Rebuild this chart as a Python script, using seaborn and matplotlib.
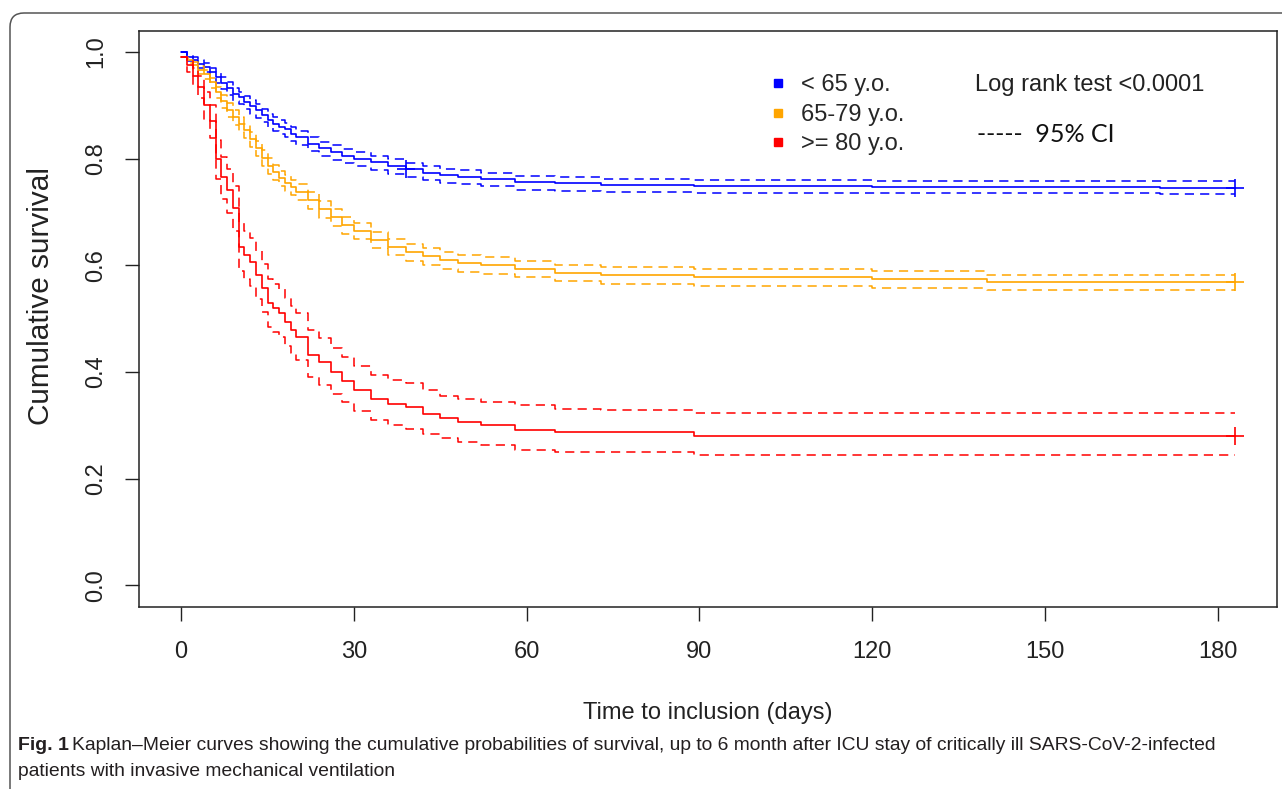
import matplotlib
matplotlib.use("Agg")
import matplotlib.pyplot as plt
import matplotlib.patches as mpatches
from matplotlib.lines import Line2D
import seaborn as sns

# ====================================
# DADOS
# ====================================

days = [0, 1, 2, 3, 4, 5, 6, 7, 8, 9, 10, 11, 12, 13, 14, 15, 16, 17, 18, 19, 20,
        22, 24, 26, 28, 30, 33, 36, 39, 42, 45, 48, 52, 58, 65, 73,
        89, 120, 140, 170, 183]

# < 65 y.o.
surv_b = [1.0, 0.99, 0.985, 0.978, 0.972, 0.962, 0.953, 0.942, 0.932, 0.922, 0.915,
          0.907, 0.898, 0.891, 0.882, 0.872, 0.866, 0.86, 0.855, 0.847, 0.84,
          0.828, 0.82, 0.812, 0.806, 0.80, 0.793, 0.786, 0.78, 0.774, 0.769, 0.766,
          0.762, 0.756, 0.754, 0.75, 0.749, 0.747, 0.747, 0.746, 0.746]
hi_b = [1.0, 0.995, 0.991, 0.985, 0.980, 0.971, 0.963, 0.953, 0.943, 0.933, 0.926,
        0.918, 0.910, 0.903, 0.894, 0.884, 0.878, 0.872, 0.867, 0.859, 0.852,
        0.840, 0.832, 0.825, 0.819, 0.813, 0.806, 0.799, 0.792, 0.786, 0.781, 0.778,
        0.774, 0.768, 0.766, 0.762, 0.761, 0.759, 0.759, 0.758, 0.758]
lo_b = [1.0, 0.984, 0.978, 0.970, 0.963, 0.952, 0.942, 0.930, 0.920, 0.909, 0.902,
        0.894, 0.884, 0.877, 0.868, 0.858, 0.852, 0.846, 0.841, 0.833, 0.826,
        0.814, 0.806, 0.798, 0.792, 0.786, 0.779, 0.772, 0.766, 0.760, 0.755, 0.752,
        0.748, 0.742, 0.740, 0.737, 0.736, 0.735, 0.735, 0.733, 0.733]

# 65-79 y.o.
surv_o = [0.99, 0.985, 0.975, 0.967, 0.958, 0.943, 0.925, 0.908, 0.892, 0.878, 0.865,
          0.853, 0.837, 0.82, 0.802, 0.787, 0.775, 0.763, 0.755, 0.747, 0.738,
          0.722, 0.705, 0.69, 0.675, 0.665, 0.648, 0.635, 0.625, 0.617, 0.61, 0.604,
          0.60, 0.594, 0.586, 0.582, 0.578, 0.574, 0.568, 0.568, 0.568]
hi_o = [0.99, 0.989, 0.981, 0.974, 0.966, 0.952, 0.935, 0.919, 0.904, 0.891, 0.878,
        0.866, 0.851, 0.834, 0.816, 0.801, 0.789, 0.777, 0.769, 0.761, 0.753,
        0.737, 0.720, 0.705, 0.690, 0.680, 0.663, 0.650, 0.640, 0.632, 0.625, 0.619,
        0.615, 0.609, 0.601, 0.597, 0.593, 0.589, 0.582, 0.582, 0.582]
lo_o = [0.99, 0.980, 0.968, 0.959, 0.949, 0.933, 0.914, 0.896, 0.879, 0.864, 0.851,
        0.839, 0.822, 0.805, 0.787, 0.772, 0.760, 0.748, 0.740, 0.732, 0.722,
        0.706, 0.689, 0.674, 0.659, 0.649, 0.632, 0.619, 0.609, 0.601, 0.594, 0.588,
        0.584, 0.578, 0.570, 0.566, 0.562, 0.558, 0.553, 0.553, 0.553]

# >= 80 y.o.
surv_r = [0.99, 0.975, 0.955, 0.935, 0.90, 0.87, 0.80, 0.765, 0.741, 0.707, 0.634,
          0.62, 0.606, 0.582, 0.557, 0.529, 0.52, 0.51, 0.493, 0.478, 0.465,
          0.432, 0.418, 0.40, 0.383, 0.367, 0.350, 0.341, 0.334, 0.322, 0.313, 0.306,
          0.30, 0.291, 0.288, 0.287, 0.281, 0.281, 0.281, 0.281, 0.281]
hi_r = [0.99, 0.985, 0.970, 0.955, 0.925, 0.90, 0.835, 0.803, 0.781, 0.749, 0.679,
        0.665, 0.651, 0.627, 0.602, 0.574, 0.565, 0.555, 0.538, 0.523, 0.511,
        0.478, 0.464, 0.446, 0.429, 0.412, 0.395, 0.386, 0.379, 0.366, 0.356, 0.349,
        0.343, 0.338, 0.331, 0.329, 0.323, 0.323, 0.323, 0.323, 0.323]
lo_r = [0.99, 0.963, 0.937, 0.913, 0.873, 0.838, 0.762, 0.725, 0.699, 0.664, 0.589,
        0.575, 0.561, 0.537, 0.512, 0.485, 0.476, 0.466, 0.449, 0.435, 0.423,
        0.39, 0.376, 0.359, 0.343, 0.327, 0.310, 0.301, 0.294, 0.283, 0.276, 0.269,
        0.263, 0.254, 0.251, 0.250, 0.244, 0.244, 0.244, 0.244, 0.244]

# censuras (+)
cens_t_b = [39, 183]
cens_s_b = [0.78, 0.746]
cens_t_o = [183]
cens_s_o = [0.568]
cens_t_r = [183]
cens_s_r = [0.281]

labels = ["< 65 y.o.", "65-79 y.o.", ">= 80 y.o."]
colors = ["#0000FF", "#FFA500", "#FF0000"]

x_ticks = [0, 30, 60, 90, 120, 150, 180]
y_ticks = [0.0, 0.2, 0.4, 0.6, 0.8, 1.0]

# ====================================
# ESTILO
# ====================================

sns.set_style("ticks")
plt.rcParams["font.family"] = ["Liberation Sans", "DejaVu Sans"]

W, H = 1282, 789
fig = plt.figure(figsize=(W / 100, H / 100), dpi=100)

# moldura arredondada
frame = mpatches.FancyBboxPatch(
    (0.10, -0.5), 13.4, 8.26,
    boxstyle="round,pad=0,rounding_size=0.14",
    transform=fig.dpi_scale_trans,
    facecolor="none", edgecolor="#555555", linewidth=1.1, clip_on=False
)
fig.add_artist(frame)

ax_l, ax_r, ax_t, ax_b = 139, 1277, 30.7, 606.7
ax = fig.add_axes([ax_l / W, 1 - ax_b / H, (ax_r - ax_l) / W, (ax_b - ax_t) / H])

# ====================================
# CURVAS
# ====================================

series = [
    (surv_b, lo_b, hi_b, cens_t_b, cens_s_b),
    (surv_o, lo_o, hi_o, cens_t_o, cens_s_o),
    (surv_r, lo_r, hi_r, cens_t_r, cens_s_r),
]

for (surv, lo, hi, ct, cs), cor in zip(series, colors):
    for banda in (lo, hi):
        sns.lineplot(x=days, y=banda, color=cor, drawstyle="steps-post",
                     linewidth=1.1, linestyle=(0, (6, 4)), estimator=None, ax=ax)
    sns.lineplot(x=days, y=surv, color=cor, drawstyle="steps-post",
                 linewidth=1.2, estimator=None, ax=ax)
    sns.scatterplot(x=ct, y=cs, marker="+", s=150, color=cor,
                    linewidth=1.2, ax=ax, zorder=4)

# ====================================
# EIXOS
# ====================================

ax.set_xlim(-7.32, 190.32)
ax.set_ylim(-0.04, 1.04)
ax.set_xticks(x_ticks)
ax.set_yticks(y_ticks)
ax.set_xticklabels([str(t) for t in x_ticks])
ax.set_yticklabels([f"{t:.1f}" for t in y_ticks])

ax.tick_params(direction="out", length=10.3, width=1.0, pad=14.5,
               labelsize=17, colors="#222222")
ax.tick_params(axis="y", pad=12.5)
for lab in ax.get_yticklabels():
    lab.set_rotation(90)
    lab.set_va("center")

for sp in ax.spines.values():
    sp.set_visible(True)
    sp.set_color("#222222")
    sp.set_linewidth(1.1)

ax.set_ylabel("Cumulative survival", fontsize=21.4, color="#222222")
ax.yaxis.set_label_coords((55 - ax_l) / (ax_r - ax_l), (ax_b - 296) / (ax_b - ax_t))

ax.set_xlabel("Time to inclusion (days)", fontsize=17, color="#222222")
ax.xaxis.set_label_coords(0.5, (ax_b - 702) / (ax_b - ax_t))

# legenda
handles = [Line2D([], [], marker="s", linestyle="", color=c, markersize=6)
           for c in colors]
ax.legend(handles, labels, loc="upper left",
          bbox_to_anchor=((770 - ax_l) / (ax_r - ax_l), (ax_b - 74.5) / (ax_b - ax_t)),
          frameon=False, fontsize=17, handlelength=0.7, handletextpad=0.6,
          labelspacing=0.31, borderpad=0, borderaxespad=0)

fig.text(975 / W, 1 - 85 / H, "Log rank test <0.0001", fontsize=17,
         va="center", ha="left", color="#222222")
fig.text(977 / W, 1 - 135 / H, "-----  95% CI", fontsize=18,
         va="center", ha="left", color="#111111", family=["Lato", "DejaVu Sans"])

# ====================================
# LEGENDA DA FIGURA
# ====================================

fig.text(18 / W, 1 - 746 / H, "Fig. 1", fontsize=14, fontweight="bold",
         va="center", ha="left", color="#231f20")
fig.text(72 / W, 1 - 746 / H,
         "Kaplan\u2013Meier curves showing the cumulative probabilities of survival, "
         "up to 6 month after ICU stay of critically ill SARS-CoV-2-infected",
         fontsize=13.9, va="center", ha="left", color="#231f20")
fig.text(18 / W, 1 - 772 / H, "patients with invasive mechanical ventilation",
         fontsize=13.9, va="center", ha="left", color="#231f20")

fig.savefig("out.png", dpi=100)
